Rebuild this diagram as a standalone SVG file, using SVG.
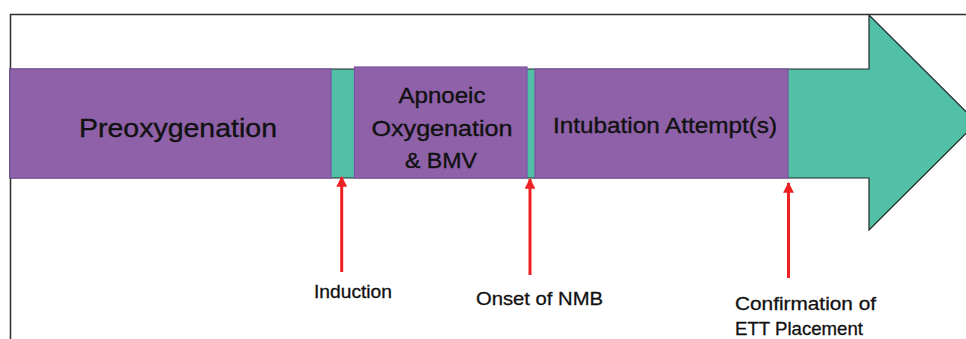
<svg xmlns="http://www.w3.org/2000/svg" width="966" height="339" viewBox="0 0 966 339">
<defs>
<style>
.frame{fill:none;stroke:#2e2e2e;stroke-width:1.5}
.teal{fill:#52C0A6;stroke:#1f2a28;stroke-width:1.2}
.box{fill:#8E61A8;stroke:#7E52A2;stroke-width:1.2}
.t{font-family:"Liberation Sans",Arial,sans-serif;fill:#111;stroke:#111;stroke-width:0.35;text-anchor:middle}
.lbl{font-family:"Liberation Sans",Arial,sans-serif;fill:#111;stroke:#111;stroke-width:0.3;font-size:18.5px}
.ptr{stroke:#EE2024;stroke-width:3;fill:none}
</style>
<marker id="ah" viewBox="0 0 10 10" refX="9" refY="5" markerWidth="4" markerHeight="3.6" orient="auto" markerUnits="strokeWidth">
<path d="M0,0 L10,5 L0,10 Z" fill="#EE2024"/>
</marker>
</defs>
<rect width="966" height="339" fill="#fff"/>
<g id="frame">
<path class="frame" d="M10.5,339 V14.5 H966"/>
</g>
<g id="timeline-arrow">
<path class="teal" d="M10,69 H869 V15 L977,122.5 L869,230 V178 H10 Z"/>
</g>
<g id="preoxygenation">
<rect class="box" x="10" y="69" width="321" height="109"/>
<text class="t" x="178" y="137" font-size="26.5" textLength="198" lengthAdjust="spacingAndGlyphs">Preoxygenation</text>
</g>
<g id="apnoeic">
<rect class="box" x="354.5" y="67" width="172.5" height="111"/>
<text class="t" x="442" y="103" font-size="22" textLength="87" lengthAdjust="spacingAndGlyphs">Apnoeic</text>
<text class="t" x="442" y="136" font-size="22" textLength="141" lengthAdjust="spacingAndGlyphs">Oxygenation</text>
<text class="t" x="441" y="168" font-size="22" textLength="72" lengthAdjust="spacingAndGlyphs">&amp; BMV</text>
</g>
<g id="intubation">
<rect class="box" x="535" y="69" width="253" height="109"/>
<text class="t" x="665" y="133" font-size="22.5" textLength="224" lengthAdjust="spacingAndGlyphs">Intubation Attempt(s)</text>
</g>
<g id="connectors">
<line class="ptr" x1="341.7" y1="272" x2="341.7" y2="177" marker-end="url(#ah)"/>
<line class="ptr" x1="530" y1="275" x2="530" y2="179" marker-end="url(#ah)"/>
<line class="ptr" x1="788.5" y1="278" x2="788.5" y2="183" marker-end="url(#ah)"/>
</g>
<g id="induction">
<text class="lbl" x="314" y="298" textLength="78" lengthAdjust="spacingAndGlyphs">Induction</text>
</g>
<g id="onset">
<text class="lbl" x="476" y="305" textLength="127" lengthAdjust="spacingAndGlyphs">Onset of NMB</text>
</g>
<g id="confirmation">
<text class="lbl" x="735" y="310" textLength="141" lengthAdjust="spacingAndGlyphs">Confirmation of</text>
<text class="lbl" x="735" y="335" textLength="128" lengthAdjust="spacingAndGlyphs">ETT Placement</text>
</g>
</svg>
